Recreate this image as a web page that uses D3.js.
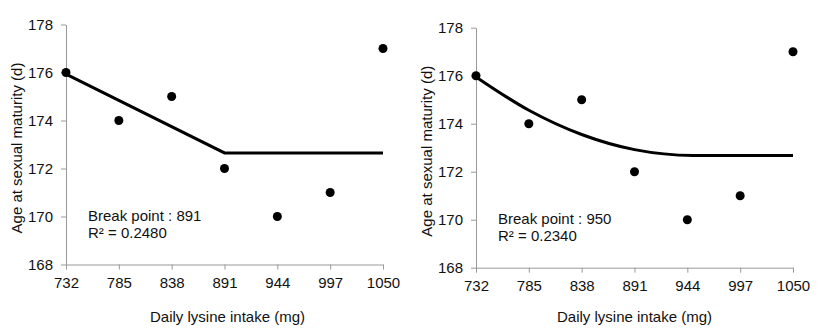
<!DOCTYPE html>
<html>
<head>
<meta charset="utf-8">
<script src="https://cdn.jsdelivr.net/npm/d3@7"></script>
<style>
  body { margin: 0; background: #fff; }
  svg { display: block; font-family: "Liberation Sans", Arial, sans-serif; }
</style>
</head>
<body>
<div id="chart"></div>
<script>
const intake = [732, 785, 838, 891, 944, 997, 1050];
const age = [176, 174, 175, 172, 170, 171, 177];
const yTicks = [168, 170, 172, 174, 176, 178];

// fitted lines
const linearFitX = [732, 891, 1050];
const linearFitY = [175.93, 172.65, 172.65];
const quadFitX = [732, 785, 838, 891, 950, 1050];
const quadFitY = [175.95, 174.56, 173.55, 172.92, 172.68, 172.68];

const panels = [
  { left: 66, top: 24.5, fitX: linearFitX, fitY: linearFitY, curve: d3.curveLinear,
    label1: 'Break point : 891', r2: '0.2480', titleShift: 3 },
  { left: 476, top: 27.7, fitX: quadFitX, fitY: quadFitY, curve: d3.curveMonotoneX,
    label1: 'Break point : 950', r2: '0.2340', titleShift: 0 }
];

const svg = d3.select('#chart').append('svg')
  .attr('width', 827)
  .attr('height', 332);

const w = 317;
const h = 240;

panels.forEach(function(p) {
  const x = d3.scaleLinear().domain([732, 1050]).range([0, w]);
  const y = d3.scaleLinear().domain([168, 178]).range([h, 0]);

  const g = svg.append('g').attr('transform', `translate(${p.left},${p.top})`);

  const yAxis = g.append('g')
    .call(d3.axisLeft(y).tickValues(yTicks).tickSize(5).tickPadding(8).tickSizeOuter(0));
  const xAxis = g.append('g')
    .attr('transform', `translate(0,${h})`)
    .call(d3.axisBottom(x).tickValues(intake).tickFormat(d3.format('d'))
      .tickSize(5).tickPadding(8).tickSizeOuter(0));

  [xAxis, yAxis].forEach(function(a) {
    a.select('.domain').attr('stroke', '#999');
    a.selectAll('.tick line').attr('stroke', '#999');
    a.selectAll('.tick text').attr('font-size', 15).attr('fill', '#111')
      .attr('font-family', '"Liberation Sans", Arial, sans-serif');
  });

  const line = d3.line()
    .x(function(d) { return x(d[0]); })
    .y(function(d) { return y(d[1]); })
    .curve(p.curve);

  g.append('path')
    .datum(d3.zip(p.fitX, p.fitY))
    .attr('d', line)
    .attr('fill', 'none')
    .attr('stroke', '#000')
    .attr('stroke-width', 3);

  g.selectAll('circle')
    .data(d3.zip(intake, age))
    .enter()
    .append('circle')
    .attr('cx', function(d) { return x(d[0]); })
    .attr('cy', function(d) { return y(d[1]); })
    .attr('r', 4.5)
    .attr('fill', '#000');

  g.append('text')
    .attr('x', 22)
    .attr('y', 196)
    .attr('font-size', 15)
    .attr('fill', '#111')
    .text(p.label1);

  g.append('text')
    .attr('x', 22)
    .attr('y', 213)
    .attr('font-size', 15)
    .attr('fill', '#111')
    .text('R\u00B2 = ' + p.r2);

  g.append('text')
    .attr('x', w / 2 + p.titleShift)
    .attr('y', 322 - p.top)
    .attr('text-anchor', 'middle')
    .attr('font-size', 15)
    .attr('fill', '#111')
    .text('Daily lysine intake (mg)');

  g.append('text')
    .attr('transform', `translate(${-44},${h / 2 + 3.5}) rotate(-90)`)
    .attr('text-anchor', 'middle')
    .attr('font-size', 15)
    .attr('fill', '#111')
    .text('Age at sexual maturity (d)');
});
</script>
</body>
</html>
